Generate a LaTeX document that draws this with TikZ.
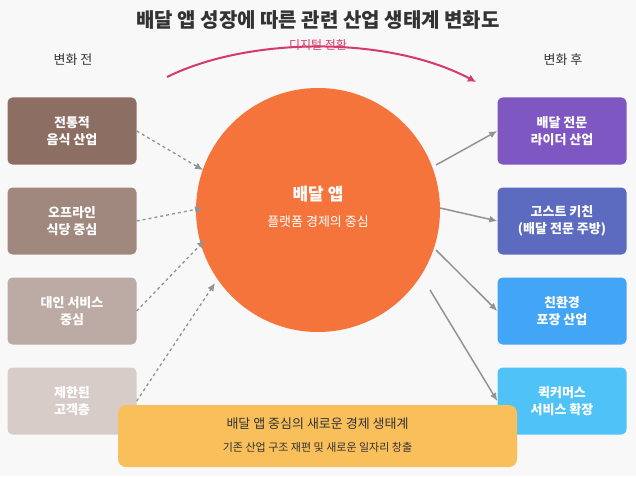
\documentclass[tikz,border=0pt]{standalone}
\usepackage{fontspec}
\setmainfont{Noto Sans CJK KR}
\usetikzlibrary{arrows.meta}
\definecolor{bg}{HTML}{F8F8F8}
\definecolor{tc}{HTML}{333333}
\definecolor{la}{HTML}{8D6E63}\definecolor{lb}{HTML}{A1887F}\definecolor{lc}{HTML}{BCAAA4}\definecolor{ld}{HTML}{D7CCC8}
\definecolor{ra}{HTML}{7E57C2}\definecolor{rb}{HTML}{5C6BC0}\definecolor{rc}{HTML}{42A5F5}\definecolor{rd}{HTML}{4FC3F7}
\definecolor{orng}{HTML}{F4743B}\definecolor{yel}{HTML}{F9BF5A}\definecolor{pink}{HTML}{D63A6A}
\tikzset{box/.style={rounded corners=5pt,minimum width=129pt,minimum height=67pt,text=white,font=\bfseries\fontsize{13}{17}\selectfont,align=center},
dar/.style={-{Latex[length=8pt,width=7pt]},gray!85,line width=1.3pt,dashed},
sar/.style={-{Latex[length=8pt,width=7pt]},gray!85,line width=1.5pt}}
\begin{document}
\begin{tikzpicture}[x=1pt,y=-1pt]
\fill[bg] (0,0) rectangle (636,476);
\useasboundingbox (0,0) rectangle (636,476);
\node[font=\bfseries\fontsize{20}{22}\selectfont,text=tc] (title) at (318,20) {배달 앱 성장에 따른 관련 산업 생태계 변화도};
\node[font=\fontsize{13}{15}\selectfont,text=tc] (bef) at (73,60) {변화 전};
\node[font=\fontsize{13}{15}\selectfont,text=tc] (aft) at (563,60) {변화 후};
\coordinate (as) at (167,77); \coordinate (ae) at (476,82);
\draw[pink,line width=2pt,-{Latex[length=8pt,width=8pt]}] (as) .. controls (250,36) and (390,36) .. (ae);
\node[font=\fontsize{12}{14}\selectfont,text=pink] (dt) at (318,45) {디지털 전환};
\node[circle,fill=orng,minimum size=244pt,text=white,align=center] (c) at (318,210) {};
\node[text=white,font=\bfseries\fontsize{17}{20}\selectfont] (ct) at (318,194) {배달 앱};
\node[text=white,font=\fontsize{13}{15}\selectfont] (cs) at (318,222) {플랫폼 경제의 중심};
\node[box,fill=la] (l1) at (72,131) {전통적\\음식 산업};
\node[box,fill=lb] (l2) at (72,221) {오프라인\\식당 중심};
\node[box,fill=lc] (l3) at (72,311) {대인 서비스\\중심};
\node[box,fill=ld] (l4) at (72,401) {제한된\\고객층};
\node[box,fill=ra] (r1) at (562,131) {배달 전문\\라이더 산업};
\node[box,fill=rb] (r2) at (562,221) {고스트 키친\\(배달 전문 주방)};
\node[box,fill=rc] (r3) at (562,311) {친환경\\포장 산업};
\node[box,fill=rd] (r4) at (562,401) {퀵커머스\\서비스 확장};
\draw[dar] (l1.east) -- (203,170);
\draw[dar] (l2.east) -- (203,208);
\draw[dar] (l3.east) -- (205,240);
\draw[dar] (l4.east) -- (215,283);
\draw[sar] (436,165) -- (r1.west);
\draw[sar] (440,208) -- (r2.west);
\draw[sar] (436,250) -- (r3.west);
\draw[sar] (430,290) -- (r4.west);
\node[fill=yel,rounded corners=8pt,minimum width=399pt,minimum height=62pt] (bb) at (317.5,436) {};
\node[text=tc,font=\fontsize{13}{15}\selectfont] (bt) at (317.5,424) {배달 앱 중심의 새로운 경제 생태계};
\node[text=tc,font=\fontsize{11}{13}\selectfont] (bs) at (317.5,447) {기존 산업 구조 재편 및 새로운 일자리 창출};
\end{tikzpicture}
\end{document}
